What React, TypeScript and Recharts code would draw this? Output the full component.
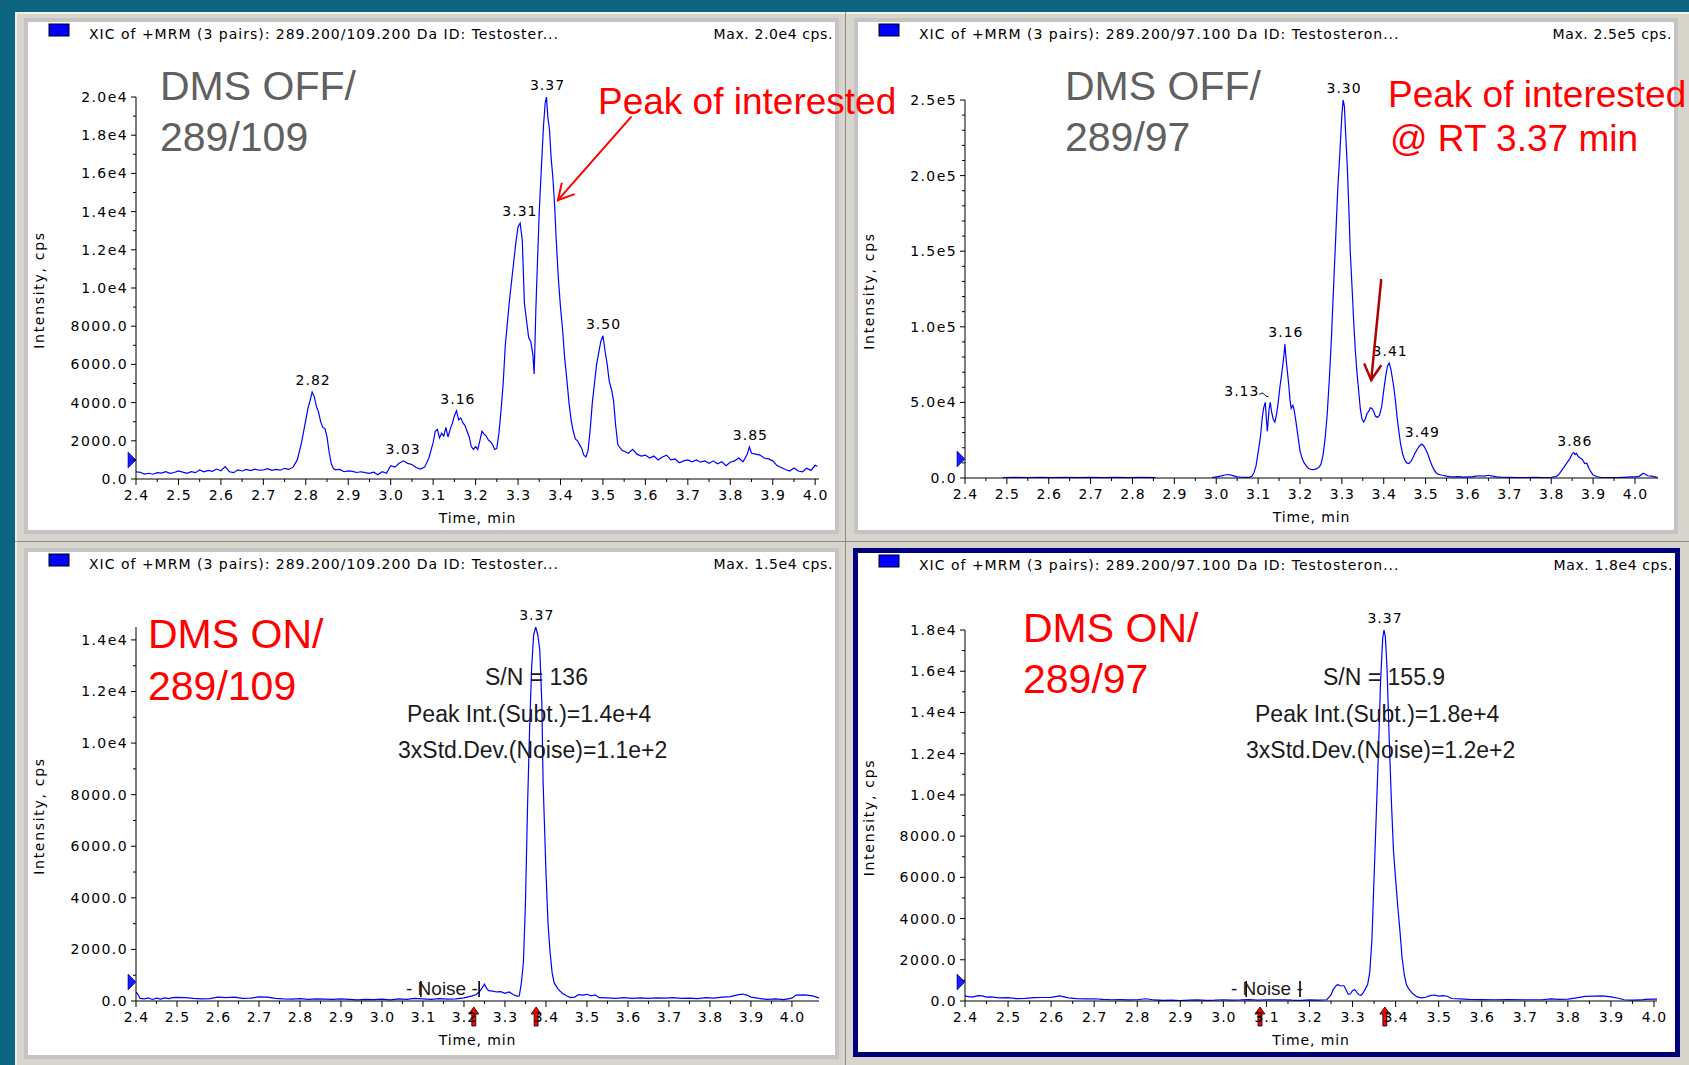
import React from 'react';
import { LineChart, Line, XAxis, YAxis, ReferenceDot } from 'recharts';

type Pt = [number, number | null];

const SMALL_FONT = '"DejaVu Sans", Verdana, sans-serif';
const BIG_FONT = '"Liberation Sans", Arial, sans-serif';
const Y_W = 60;
const X_H = 30;

const xMajorTicks = [2.4, 2.5, 2.6, 2.7, 2.8, 2.9, 3.0, 3.1, 3.2, 3.3, 3.4, 3.5, 3.6, 3.7, 3.8, 3.9, 4.0];
const xMinorTicks = [2.45, 2.55, 2.65, 2.75, 2.85, 2.95, 3.05, 3.15, 3.25, 3.35, 3.45, 3.55, 3.65, 3.75, 3.85, 3.95];

const yMajorOff109 = [0, 2000, 4000, 6000, 8000, 10000, 12000, 14000, 16000, 18000, 20000];
const yMinorOff109 = [1000, 3000, 5000, 7000, 9000, 11000, 13000, 15000, 17000, 19000];
const yMajorOff97 = [0, 50000, 100000, 150000, 200000, 250000];
const yMinorOff97 = [10000, 20000, 30000, 40000, 60000, 70000, 80000, 90000, 110000, 120000, 130000, 140000,
  160000, 170000, 180000, 190000, 210000, 220000, 230000, 240000];
const yMajorOn109 = [0, 2000, 4000, 6000, 8000, 10000, 12000, 14000];
const yMinorOn109 = [1000, 3000, 5000, 7000, 9000, 11000, 13000];
const yMajorOn97 = [0, 2000, 4000, 6000, 8000, 10000, 12000, 14000, 16000, 18000];
const yMinorOn97 = [1000, 3000, 5000, 7000, 9000, 11000, 13000, 15000, 17000];

// XIC traces, [time (min), intensity (cps)]
const off109: Pt[] = [
  [2.40, 380], [2.41, 350], [2.42, 260], [2.43, 300], [2.44, 250], [2.45, 330], [2.46, 310], [2.47, 380],
  [2.48, 300], [2.49, 340], [2.50, 420], [2.51, 360], [2.52, 300], [2.53, 380], [2.54, 330], [2.55, 480],
  [2.56, 380], [2.57, 450], [2.58, 400], [2.59, 520], [2.60, 430], [2.61, 650], [2.62, 380], [2.63, 330],
  [2.64, 480], [2.65, 420], [2.66, 500], [2.67, 440], [2.68, 520], [2.69, 460], [2.70, 470], [2.71, 540],
  [2.72, 450], [2.73, 500], [2.74, 460], [2.75, 560], [2.76, 500], [2.77, 620], [2.78, 1000], [2.79, 1900],
  [2.80, 3100], [2.805, 3700], [2.81, 4100], [2.815, 4550], [2.82, 4300], [2.825, 3800], [2.83, 3500],
  [2.835, 3000], [2.84, 2700], [2.845, 2650], [2.85, 2200], [2.855, 1400], [2.86, 800], [2.865, 560],
  [2.87, 480], [2.88, 500], [2.89, 380], [2.90, 420], [2.91, 400], [2.92, 340], [2.93, 380], [2.94, 330],
  [2.95, 300], [2.96, 360], [2.97, 220], [2.98, 380], [2.99, 300], [3.00, 700], [3.01, 620], [3.02, 820],
  [3.03, 950], [3.04, 820], [3.05, 760], [3.06, 600], [3.07, 520], [3.08, 620], [3.09, 1100], [3.10, 1900],
  [3.105, 2500], [3.11, 2600], [3.115, 2150], [3.12, 2400], [3.125, 2250], [3.13, 2700], [3.135, 2200],
  [3.14, 2600], [3.145, 2900], [3.15, 3300], [3.155, 3575], [3.16, 3100], [3.165, 3200], [3.17, 2950],
  [3.175, 2800], [3.18, 2500], [3.185, 2200], [3.19, 1700], [3.195, 1550], [3.20, 1700], [3.205, 1550],
  [3.21, 2000], [3.215, 2500], [3.22, 2350], [3.225, 2250], [3.23, 2050], [3.235, 1950], [3.24, 1800],
  [3.245, 1550], [3.25, 1600], [3.255, 2400], [3.26, 3600], [3.265, 5000], [3.27, 7000], [3.275, 8200],
  [3.28, 9400], [3.285, 10400], [3.29, 11400], [3.295, 12400], [3.30, 13200], [3.305, 13400], [3.31, 12500],
  [3.315, 9200], [3.32, 8300], [3.325, 7400], [3.33, 7200], [3.335, 6500], [3.338, 5500], [3.342, 8900],
  [3.346, 11500], [3.35, 14000], [3.355, 16300], [3.36, 18500], [3.364, 19700], [3.367, 20000], [3.37, 19000],
  [3.374, 18300], [3.378, 16800], [3.382, 15800], [3.386, 14400], [3.39, 12500], [3.395, 10500], [3.40, 9000],
  [3.405, 7800], [3.41, 6300], [3.415, 5200], [3.42, 4000], [3.425, 3100], [3.43, 2500], [3.435, 2100],
  [3.44, 2000], [3.445, 1800], [3.45, 1600], [3.455, 1250], [3.46, 1150], [3.465, 1500], [3.47, 2600],
  [3.475, 4000], [3.48, 5000], [3.485, 6000], [3.49, 6600], [3.495, 7200], [3.50, 7500], [3.505, 6700],
  [3.51, 6000], [3.515, 5100], [3.52, 4700], [3.525, 4100], [3.53, 2800], [3.535, 1800], [3.54, 1650],
  [3.545, 1500], [3.55, 1450], [3.56, 1350], [3.57, 1550], [3.58, 1300], [3.59, 1200], [3.60, 1250],
  [3.61, 1100], [3.62, 1200], [3.63, 1000], [3.64, 1150], [3.65, 1250], [3.66, 1000], [3.67, 1050],
  [3.68, 850], [3.69, 950], [3.70, 1000], [3.71, 900], [3.72, 1000], [3.73, 880], [3.74, 950], [3.75, 820],
  [3.76, 950], [3.77, 800], [3.78, 900], [3.79, 700], [3.80, 880], [3.81, 950], [3.82, 1100], [3.83, 900],
  [3.84, 1300], [3.845, 1680], [3.85, 1350], [3.86, 1300], [3.87, 1250], [3.88, 1100], [3.89, 1050],
  [3.90, 950], [3.91, 700], [3.92, 600], [3.93, 500], [3.94, 420], [3.95, 580], [3.96, 420], [3.97, 380],
  [3.98, 560], [3.99, 450], [4.00, 720], [4.005, 650],
];

const off97: Pt[] = [
  [2.49, 300], [2.52, 500], [2.55, 200], [2.58, 400], [2.61, 300], [2.64, 500], [2.67, 200], [2.70, 400],
  [2.73, 300], [2.76, 500], [2.79, 200], [2.82, 400], [2.855, 300], [2.93, null], [2.99, 300], [3.00, 800],
  [3.01, 1200], [3.02, 2000], [3.03, 2300], [3.04, 1600], [3.05, 800], [3.06, 500], [3.07, 400], [3.08, 600],
  [3.085, 1200], [3.09, 3500], [3.095, 8000], [3.10, 17000], [3.105, 26000], [3.11, 40000], [3.113, 46000],
  [3.117, 50000], [3.12, 38000], [3.122, 31000], [3.126, 45000], [3.129, 50000], [3.132, 44000],
  [3.136, 39000], [3.14, 37000], [3.144, 42000], [3.148, 50000], [3.152, 60000], [3.156, 68000],
  [3.159, 75000], [3.162, 82000], [3.164, 88600], [3.167, 78000], [3.17, 70000], [3.173, 62000],
  [3.176, 52000], [3.179, 46000], [3.183, 48000], [3.186, 45000], [3.19, 38000], [3.195, 28000],
  [3.20, 18000], [3.205, 13000], [3.21, 10000], [3.215, 8000], [3.22, 6500], [3.225, 5800], [3.23, 5600],
  [3.235, 5700], [3.24, 6200], [3.245, 7000], [3.25, 9000], [3.255, 15000], [3.26, 26000], [3.265, 42000],
  [3.27, 65000], [3.275, 92000], [3.28, 125000], [3.285, 157000], [3.29, 190000], [3.295, 214000],
  [3.30, 240000], [3.303, 250000], [3.306, 246000], [3.309, 228000], [3.313, 206000], [3.317, 176000],
  [3.32, 150000], [3.324, 128000], [3.328, 105000], [3.332, 85000], [3.336, 70000], [3.34, 58000],
  [3.344, 46000], [3.348, 39000], [3.352, 37000], [3.356, 39000], [3.36, 42500], [3.364, 44000],
  [3.368, 46500], [3.372, 46000], [3.376, 44000], [3.38, 41000], [3.385, 40000], [3.39, 41500],
  [3.395, 47000], [3.40, 58000], [3.405, 68000], [3.409, 74000], [3.413, 76000], [3.417, 72000],
  [3.42, 67000], [3.424, 60000], [3.428, 51000], [3.432, 40000], [3.436, 31000], [3.44, 23000],
  [3.445, 16000], [3.45, 12000], [3.455, 10000], [3.46, 9500], [3.465, 11000], [3.47, 13500],
  [3.475, 16500], [3.48, 19000], [3.485, 21000], [3.49, 22400], [3.495, 21500], [3.50, 19000],
  [3.505, 16000], [3.51, 12000], [3.515, 8500], [3.52, 5500], [3.525, 3500], [3.53, 2500], [3.54, 1800],
  [3.55, 1200], [3.56, 800], [3.57, 700], [3.58, 900], [3.59, 600], [3.60, 700], [3.61, 800], [3.62, 1200],
  [3.63, 1500], [3.64, 1300], [3.65, 1800], [3.66, 1200], [3.67, 800], [3.68, 600], [3.70, 400], [3.72, 300],
  [3.74, 300], [3.76, 400], [3.78, 300], [3.80, 500], [3.81, 900], [3.815, 1500], [3.82, 3000],
  [3.825, 5000], [3.83, 7000], [3.835, 9000], [3.84, 11000], [3.845, 13000], [3.85, 16000], [3.854, 16800],
  [3.857, 15500], [3.86, 16200], [3.865, 14000], [3.87, 13000], [3.875, 12000], [3.88, 9500], [3.885, 9800],
  [3.89, 6500], [3.895, 4000], [3.90, 2000], [3.91, 800], [3.92, 300], [3.94, 200], [3.96, 300], [3.98, 600],
  [3.99, 700], [4.00, 800], [4.01, 1100], [4.02, 3200], [4.025, 2500], [4.03, 1500], [4.04, 1200],
  [4.05, 600], [4.055, 500],
];

const on109: Pt[] = [
  [2.40, 350], [2.405, 250], [2.41, 100], [2.42, 80], [2.43, 120], [2.44, 60], [2.45, 110], [2.46, 70],
  [2.47, 120], [2.48, 90], [2.49, 130], [2.50, 140], [2.52, 130], [2.54, 100], [2.56, 80], [2.58, 90],
  [2.60, 150], [2.62, 130], [2.64, 150], [2.66, 100], [2.68, 110], [2.70, 160], [2.72, 150], [2.74, 100],
  [2.76, 80], [2.78, 70], [2.80, 90], [2.82, 60], [2.84, 80], [2.86, 70], [2.88, 60], [2.90, 80], [2.92, 60],
  [2.94, 40], [2.96, 60], [2.98, 50], [3.00, 70], [3.02, 40], [3.04, 80], [3.06, 60], [3.08, 100],
  [3.10, 80], [3.12, 60], [3.14, 90], [3.16, 70], [3.18, 80], [3.20, 120], [3.22, 200], [3.23, 250],
  [3.24, 400], [3.25, 650], [3.255, 500], [3.26, 400], [3.27, 380], [3.28, 350], [3.29, 360], [3.30, 300],
  [3.31, 350], [3.32, 250], [3.33, 180], [3.335, 200], [3.34, 700], [3.345, 1500], [3.35, 3800],
  [3.355, 7500], [3.36, 10500], [3.365, 12900], [3.37, 14200], [3.375, 14500], [3.38, 14200],
  [3.385, 13600], [3.39, 11500], [3.393, 8500], [3.397, 6500], [3.40, 5000], [3.405, 3000], [3.41, 1900],
  [3.415, 1100], [3.42, 700], [3.43, 450], [3.44, 300], [3.45, 200], [3.46, 130], [3.47, 150], [3.48, 250],
  [3.49, 230], [3.50, 260], [3.51, 200], [3.52, 240], [3.53, 130], [3.55, 120], [3.57, 100], [3.59, 130],
  [3.61, 100], [3.63, 120], [3.65, 100], [3.67, 120], [3.69, 110], [3.71, 130], [3.73, 100], [3.75, 110],
  [3.77, 90], [3.79, 130], [3.81, 110], [3.83, 150], [3.85, 170], [3.87, 250], [3.88, 270], [3.89, 230],
  [3.90, 150], [3.92, 100], [3.94, 60], [3.96, 80], [3.98, 50], [4.00, 110], [4.01, 230], [4.03, 240],
  [4.05, 200], [4.066, 120],
];

const on97: Pt[] = [
  [2.40, 250], [2.41, 200], [2.42, 200], [2.43, 260], [2.44, 250], [2.45, 190], [2.46, 200], [2.48, 150],
  [2.50, 160], [2.52, 120], [2.54, 130], [2.56, 160], [2.58, 170], [2.60, 180], [2.62, 250], [2.63, 200],
  [2.64, 150], [2.66, 120], [2.68, 100], [2.70, 110], [2.72, 80], [2.74, 60], [2.76, 70], [2.78, 50],
  [2.80, 60], [2.82, 110], [2.84, 50], [2.86, 30], [2.88, 40], [2.90, 20], [2.92, 40], [2.94, 50],
  [2.96, 30], [2.98, 40], [3.00, 60], [3.02, 40], [3.04, 50], [3.06, 70], [3.08, 40], [3.10, 60],
  [3.12, 50], [3.14, 60], [3.16, 40], [3.18, 30], [3.20, 50], [3.22, 40], [3.24, 60], [3.25, 300],
  [3.255, 550], [3.26, 700], [3.265, 800], [3.27, 750], [3.28, 740], [3.285, 550], [3.29, 320],
  [3.295, 350], [3.30, 500], [3.305, 560], [3.31, 420], [3.315, 300], [3.32, 280], [3.325, 400],
  [3.33, 600], [3.335, 800], [3.34, 1400], [3.345, 3000], [3.35, 6000], [3.355, 9000], [3.36, 12000],
  [3.365, 15500], [3.37, 17600], [3.373, 18000], [3.376, 17700], [3.38, 16200], [3.385, 12800],
  [3.39, 9800], [3.395, 7300], [3.40, 5900], [3.405, 4600], [3.41, 3400], [3.415, 2100], [3.42, 1300],
  [3.425, 800], [3.43, 600], [3.44, 350], [3.45, 200], [3.46, 150], [3.47, 180], [3.48, 260], [3.49, 290],
  [3.50, 240], [3.51, 260], [3.52, 230], [3.53, 120], [3.55, 100], [3.57, 80], [3.60, 70], [3.63, 60],
  [3.66, 70], [3.70, 60], [3.74, 60], [3.76, 100], [3.78, 80], [3.80, 90], [3.82, 150], [3.84, 220],
  [3.86, 240], [3.88, 250], [3.90, 200], [3.92, 120], [3.93, 60], [3.95, 40], [3.97, 50], [3.98, 80],
  [4.00, 90], [4.007, 90],
];

interface Peak { t: number; v: number; label: string; left?: boolean }

const peaksOff109: Peak[] = [
  { t: 2.815, v: 4550, label: '2.82' }, { t: 3.027, v: 950, label: '3.03' },
  { t: 3.156, v: 3575, label: '3.16' }, { t: 3.302, v: 13400, label: '3.31' },
  { t: 3.367, v: 20000, label: '3.37' }, { t: 3.499, v: 7500, label: '3.50' },
  { t: 3.845, v: 1680, label: '3.85' },
];
const peaksOff97: Peak[] = [
  { t: 3.303, v: 250000, label: '3.30' }, { t: 3.127, v: 50000, label: '3.13', left: true },
  { t: 3.164, v: 88600, label: '3.16' }, { t: 3.413, v: 76000, label: '3.41' },
  { t: 3.49, v: 22400, label: '3.49' }, { t: 3.854, v: 16800, label: '3.86' },
];
const peaksOn109: Peak[] = [{ t: 3.375, v: 14500, label: '3.37' }];
const peaksOn97: Peak[] = [{ t: 3.373, v: 18000, label: '3.37' }];

const isMajor = (list: number[], v: number) => list.some((m) => Math.abs(m - v) < 1e-6);

const fmtY = (v: number) => {
  if (v < 10000) return v.toFixed(1);
  const e = Math.floor(Math.log10(v) + 1e-9);
  return (v / Math.pow(10, e)).toFixed(1) + 'e' + e;
};

const smallText = { fontFamily: SMALL_FONT, fontSize: 14, fill: '#000' };

const xTick = (props: any) => {
  const { x, y, payload } = props;
  const major = isMajor(xMajorTicks, payload.value);
  return (
    <g>
      <line x1={x} x2={x} y1={y} y2={y + (major ? 6 : 3)} stroke="#000" />
      {major && (
        <text x={x + 0.5} y={y + 21} textAnchor="middle" letterSpacing={1} {...smallText}>
          {payload.value.toFixed(1)}
        </text>
      )}
    </g>
  );
};

const makeYTick = (majors: number[]) => (props: any) => {
  const { x, y, payload } = props;
  const major = isMajor(majors, payload.value);
  return (
    <g>
      <line x1={x - (major ? 5 : 3)} x2={x} y1={y} y2={y} stroke="#000" />
      {major && (
        <text x={x - 8} y={y + 5} textAnchor="end" letterSpacing={1.4} {...smallText}>
          {fmtY(payload.value)}
        </text>
      )}
    </g>
  );
};

const peakShape = (pk: Peak) => (s: any) =>
  pk.left ? (
    <g>
      <text x={s.cx - 10} y={s.cy - 6} textAnchor="end" letterSpacing={1} {...smallText}>{pk.label}</text>
      <path d={`M${s.cx - 10},${s.cy - 8} q3,-3 5,0 t4,2`} stroke="#000" fill="none" />
    </g>
  ) : (
    <text x={s.cx + 1} y={s.cy - 7} textAnchor="middle" letterSpacing={1} {...smallText}>{pk.label}</text>
  );

const thresholdShape = (s: any) => (
  <polygon points={`${s.cx - 8},${s.cy - 27} ${s.cx - 8},${s.cy - 11} ${s.cx},${s.cy - 19}`} fill="#1a1aff" stroke="#00007a" strokeWidth={0.6} />
);

const upArrowShape = (s: any) => {
  const { cx, cy } = s;
  const pts = [[0, 6], [5, 13], [2, 13], [2, 25], [-2, 25], [-2, 13], [-5, 13]]
    .map(([dx, dy]) => `${cx + dx},${cy + dy}`).join(' ');
  return <polygon points={pts} fill="#ff0000" stroke="#000" strokeWidth={0.8} />;
};

const noiseMarkShape = (s: any) => (
  <line x1={s.cx} x2={s.cx} y1={s.cy - 20} y2={s.cy - 4} stroke="#000" strokeWidth={1.6} />
);

const pointerShape = (dx: number, dy: number, color: string, w: number) => (s: any) => {
  const { cx, cy } = s;
  const len = Math.hypot(dx, dy);
  const ux = dx / len;
  const uy = dy / len;
  const head = 17;
  const rot = (a: number) => [ux * Math.cos(a) - uy * Math.sin(a), ux * Math.sin(a) + uy * Math.cos(a)];
  const [ax, ay] = rot(0.5);
  const [bx, by] = rot(-0.5);
  return (
    <g stroke={color} strokeWidth={w} fill="none" strokeLinecap="round">
      <line x1={cx} y1={cy} x2={cx + dx} y2={cy + dy} />
      <polyline points={`${cx + ax * head},${cy + ay * head} ${cx},${cy} ${cx + bx * head},${cy + by * head}`} />
    </g>
  );
};

interface Panel {
  id: string;
  box: { l: number; t: number; w: number; h: number };
  plot: { x0: number; x1: number; y0: number; y1: number };
  xMax: number;
  yMax: number;
  yMajor: number[];
  yMinor: number[];
  trace: Pt[];
  peaks: Peak[];
  title: string;
  maxText: string;
  upArrows: number[];
  noiseMarks: number[];
  pointer?: { t: number; v: number; dx: number; dy: number; color: string; w: number };
}

const panels: Panel[] = [
  {
    id: 'off109', box: { l: 28, t: 22, w: 807, h: 508 }, plot: { x0: 136, x1: 819, y0: 97, y1: 479 },
    xMax: 4.009, yMax: 20000, yMajor: yMajorOff109, yMinor: yMinorOff109, trace: off109, peaks: peaksOff109,
    title: 'XIC of +MRM (3 pairs): 289.200/109.200 Da ID: Testoster...', maxText: 'Max. 2.0e4 cps.',
    upArrows: [], noiseMarks: [],
    pointer: { t: 3.394, v: 14600, dx: 73, dy: -83, color: '#ff0000', w: 2 },
  },
  {
    id: 'off97', box: { l: 858, t: 22, w: 816, h: 508 }, plot: { x0: 965, x1: 1658, y0: 100, y1: 478 },
    xMax: 4.055, yMax: 250000, yMajor: yMajorOff97, yMinor: yMinorOff97, trace: off97, peaks: peaksOff97,
    title: 'XIC of +MRM (3 pairs): 289.200/97.100 Da ID: Testosteron...', maxText: 'Max. 2.5e5 cps.',
    upArrows: [], noiseMarks: [],
    pointer: { t: 3.370, v: 64800, dx: 10, dy: -100, color: '#b00000', w: 2.5 },
  },
  {
    id: 'on109', box: { l: 28, t: 552, w: 807, h: 503 }, plot: { x0: 136, x1: 819, y0: 627, y1: 1001 },
    xMax: 4.066, yMax: 14500, yMajor: yMajorOn109, yMinor: yMinorOn109, trace: on109, peaks: peaksOn109,
    title: 'XIC of +MRM (3 pairs): 289.200/109.200 Da ID: Testoster...', maxText: 'Max. 1.5e4 cps.',
    upArrows: [3.224, 3.376], noiseMarks: [3.095, 3.237],
  },
  {
    id: 'on97', box: { l: 858, t: 553, w: 817, h: 499 }, plot: { x0: 965, x1: 1657, y0: 630, y1: 1001 },
    xMax: 4.007, yMax: 18000, yMajor: yMajorOn97, yMinor: yMinorOn97, trace: on97, peaks: peaksOn97,
    title: 'XIC of +MRM (3 pairs): 289.200/97.100 Da ID: Testosteron...', maxText: 'Max. 1.8e4 cps.',
    upArrows: [3.085, 3.375], noiseMarks: [3.053, 3.178],
  },
];

function Chromatogram({ p }: { p: Panel }) {
  const data = p.trace.map(([t, v]) => ({ t, v }));
  const margin = {
    left: p.plot.x0 - p.box.l - Y_W,
    top: p.plot.y0 - p.box.t,
    right: p.box.l + p.box.w - p.plot.x1,
    bottom: p.box.t + p.box.h - p.plot.y1 - X_H,
  };
  return (
    <div style={{ position: 'absolute', left: p.box.l, top: p.box.t, width: p.box.w, height: p.box.h, background: '#fff' }}>
      <LineChart width={p.box.w} height={p.box.h} data={data} margin={margin}>
        <XAxis
          type="number" dataKey="t" domain={[2.4, p.xMax]} allowDataOverflow
          ticks={[...xMajorTicks, ...xMinorTicks]} interval={0} tickSize={0} tickMargin={0}
          tickLine={false} height={X_H} axisLine={{ stroke: '#000' }} tick={xTick}
        />
        <YAxis
          type="number" domain={[0, p.yMax]} allowDataOverflow
          ticks={[...p.yMajor, ...p.yMinor]} interval={0} tickSize={0} tickMargin={0}
          tickLine={false} width={Y_W} axisLine={{ stroke: '#000' }} tick={makeYTick(p.yMajor)}
        />
        <Line type="linear" dataKey="v" stroke="#0000ff" strokeWidth={1.2} dot={false} activeDot={false}
          connectNulls={false} isAnimationActive={false} />
        <ReferenceDot x={2.4} y={0} r={1} ifOverflow="visible" shape={thresholdShape} />
        {p.peaks.map((pk) => (
          <ReferenceDot key={pk.label} x={pk.t} y={pk.v} r={1} ifOverflow="visible" shape={peakShape(pk)} />
        ))}
        {p.upArrows.map((t) => (
          <ReferenceDot key={'a' + t} x={t} y={0} r={1} ifOverflow="visible" shape={upArrowShape} />
        ))}
        {p.noiseMarks.map((t) => (
          <ReferenceDot key={'n' + t} x={t} y={0} r={1} ifOverflow="visible" shape={noiseMarkShape} />
        ))}
        {p.pointer && (
          <ReferenceDot x={p.pointer.t} y={p.pointer.v} r={1} ifOverflow="visible"
            shape={pointerShape(p.pointer.dx, p.pointer.dy, p.pointer.color, p.pointer.w)} />
        )}
      </LineChart>
    </div>
  );
}

// annotation text drawn over the four panels
const bigNotes = [
  { x: 160, y: 100, text: 'DMS OFF/', color: '#606060' },
  { x: 160, y: 151, text: '289/109', color: '#606060' },
  { x: 1065, y: 100, text: 'DMS OFF/', color: '#606060' },
  { x: 1065, y: 151, text: '289/97', color: '#606060' },
  { x: 148, y: 648, text: 'DMS ON/', color: '#ff0000' },
  { x: 148, y: 700, text: '289/109', color: '#ff0000' },
  { x: 1023, y: 642, text: 'DMS ON/', color: '#ff0000' },
  { x: 1023, y: 693, text: '289/97', color: '#ff0000' },
];
const redNotes = [
  { x: 598, y: 114, text: 'Peak of interested' },
  { x: 1388, y: 107, text: 'Peak of interested' },
  { x: 1390, y: 151, text: '@ RT 3.37 min' },
];
const snNotes = [
  { x: 485, y: 685, text: 'S/N = 136' },
  { x: 407, y: 722, text: 'Peak Int.(Subt.)=1.4e+4' },
  { x: 398, y: 758, text: '3xStd.Dev.(Noise)=1.1e+2' },
  { x: 1323, y: 685, text: 'S/N = 155.9' },
  { x: 1255, y: 722, text: 'Peak Int.(Subt.)=1.8e+4' },
  { x: 1246, y: 758, text: '3xStd.Dev.(Noise)=1.2e+2' },
];
const noiseNotes = [
  { x: 406, y: 995, text: '- Noise -' },
  { x: 1231, y: 995, text: '- Noise -' },
];

function Overlay() {
  return (
    <svg width={1689} height={1065} style={{ position: 'absolute', left: 0, top: 0, pointerEvents: 'none' }}>
      {panels.map((p) => (
        <g key={p.id}>
          <rect x={p.box.l + 21} y={p.box.t + 2} width={20} height={12} fill="#0000ff" stroke="#000" strokeWidth={1} />
          <text x={p.box.l + 61} y={p.box.t + 17} letterSpacing={1} {...smallText}>{p.title}</text>
          <text x={p.box.l + p.box.w - 2} y={p.box.t + 17} textAnchor="end" letterSpacing={0.6} {...smallText}>{p.maxText}</text>
          <text x={(p.plot.x0 + p.plot.x1) / 2} y={p.plot.y1 + 44} textAnchor="middle" letterSpacing={0.9} {...smallText}>Time, min</text>
          <text
            transform={`translate(${p.box.l + 16}, ${(p.plot.y0 + p.plot.y1) / 2 + 2}) rotate(-90)`}
            textAnchor="middle" letterSpacing={1.7} {...smallText}
          >
            Intensity, cps
          </text>
        </g>
      ))}
      {bigNotes.map((n, i) => (
        <text key={'b' + i} x={n.x} y={n.y} fontFamily={BIG_FONT} fontSize={41} fill={n.color}>{n.text}</text>
      ))}
      {redNotes.map((n, i) => (
        <text key={'r' + i} x={n.x} y={n.y} fontFamily={BIG_FONT} fontSize={37} fill="#ff0000">{n.text}</text>
      ))}
      {snNotes.map((n, i) => (
        <text key={'s' + i} x={n.x} y={n.y} fontFamily={BIG_FONT} fontSize={23} fill="#1a1a1a">{n.text}</text>
      ))}
      {noiseNotes.map((n, i) => (
        <text key={'n' + i} x={n.x} y={n.y} fontFamily={BIG_FONT} fontSize={19} fill="#1a1a1a">{n.text}</text>
      ))}
    </svg>
  );
}

export default function App() {
  return (
    <div style={{ position: 'relative', width: 1689, height: 1065, background: '#0d6481', overflow: 'hidden' }}>
      <style>{'body { margin: 0; }'}</style>
      <div style={{ position: 'absolute', left: 15, top: 12, right: 0, bottom: 0, background: '#d8d5cc', borderLeft: '2px solid #f1efe8', borderTop: '2px solid #f1efe8' }} />
      <div style={{ position: 'absolute', left: 845, top: 12, width: 1, height: 1053, background: '#8c8c8c' }} />
      <div style={{ position: 'absolute', left: 15, top: 541, width: 1674, height: 1, background: '#8c8c8c' }} />
      {panels.slice(0, 3).map((p) => (
        <div key={'f' + p.id} style={{ position: 'absolute', left: p.box.l - 4, top: p.box.t - 4, width: p.box.w + 8, height: p.box.h + 8, background: '#c4c4c4' }} />
      ))}
      <div style={{ position: 'absolute', left: 853, top: 548, width: 827, height: 509, background: '#00007a' }} />
      {panels.map((p) => (
        <Chromatogram key={p.id} p={p} />
      ))}
      <Overlay />
    </div>
  );
}
